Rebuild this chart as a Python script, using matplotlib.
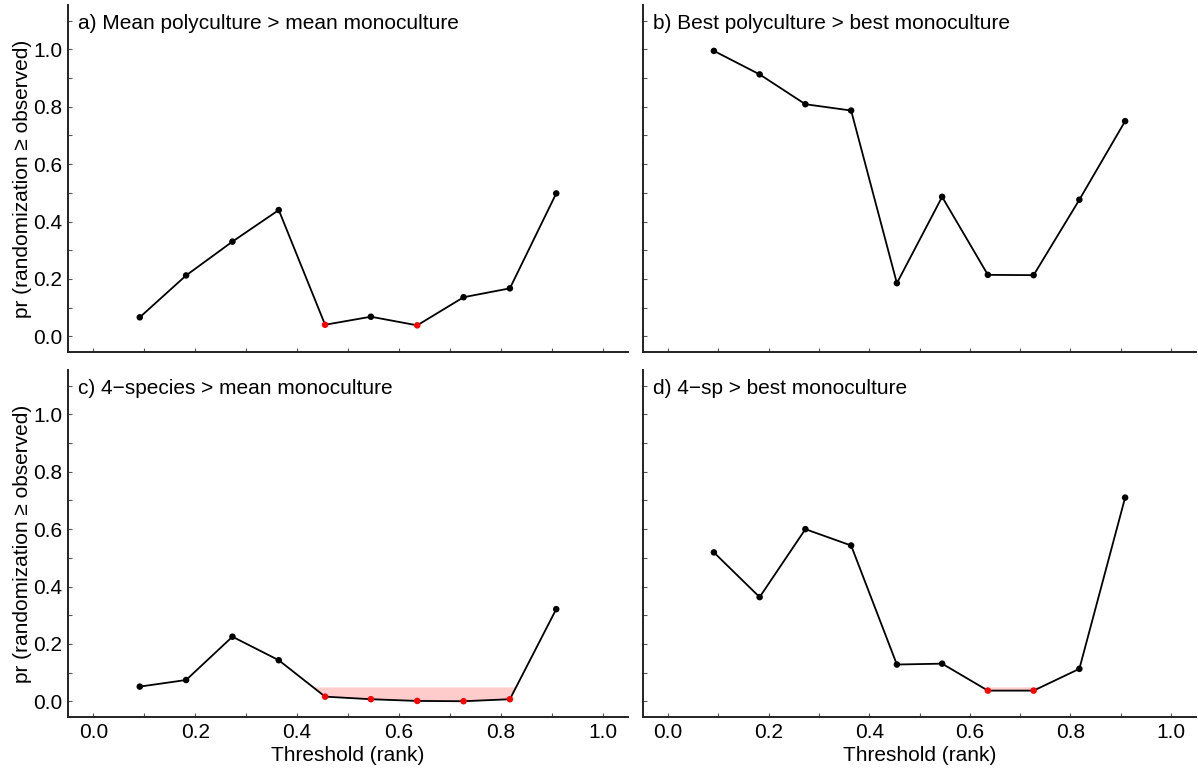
import numpy as np
import matplotlib
matplotlib.use("Agg")
import matplotlib.pyplot as plt
from matplotlib.ticker import MultipleLocator

plt.rcParams['font.family'] = ['Liberation Sans', 'DejaVu Sans']
plt.rcParams['font.size'] = 11

# Threshold ranks (x) and randomization p-values for each panel
threshold = [0.091, 0.182, 0.273, 0.364, 0.455, 0.545, 0.636, 0.727, 0.818, 0.909]
p_mean_poly = [0.066, 0.212, 0.330, 0.440, 0.040, 0.068, 0.038, 0.136, 0.167, 0.498]
p_best_poly = [0.995, 0.913, 0.809, 0.787, 0.185, 0.486, 0.214, 0.213, 0.476, 0.750]
p_4sp_mean = [0.051, 0.074, 0.225, 0.143, 0.016, 0.007, 0.001, 0.000, 0.007, 0.321]
p_4sp_best = [0.519, 0.363, 0.600, 0.543, 0.128, 0.131, 0.037, 0.037, 0.113, 0.710]

titles = ["a) Mean polyculture > mean monoculture",
          "b) Best polyculture > best monoculture",
          "c) 4\u2212species > mean monoculture",
          "d) 4\u2212sp > best monoculture"]
alpha_level = 0.05


def crossing(x0, y0, x1, y1, level):
    # x where the segment (x0,y0)-(x1,y1) hits the level
    return x0 + (level - y0) * (x1 - x0) / (y1 - y0)


def shade_runs(ax, x, y, level):
    sig = y < level
    n = len(y)
    i = 0
    while i < n:
        if not sig[i]:
            i += 1
            continue
        j = i
        while j + 1 < n and sig[j + 1]:
            j += 1
        if j > i:  # only runs of two or more significant thresholds
            xs = list(x[i:j + 1])
            ys = list(y[i:j + 1])
            if i > 0:
                xs.insert(0, crossing(x[i - 1], y[i - 1], x[i], y[i], level))
                ys.insert(0, level)
            if j < n - 1:
                xs.append(crossing(x[j], y[j], x[j + 1], y[j + 1], level))
                ys.append(level)
            ax.fill_between(xs, ys, level, color='#ff0000', alpha=0.2, lw=0)
        i = j + 1


fig = plt.figure(figsize=(11.98, 7.73), dpi=100)
W, H = 1198, 773
# axes boxes in pixels: left, right, top, bottom
boxes = [(68, 628, 5, 352), (643, 1196, 5, 352),
         (68, 628, 370, 717), (643, 1196, 370, 717)]
series = [p_mean_poly, p_best_poly, p_4sp_mean, p_4sp_best]

x = np.array(threshold)
for i, (box, p) in enumerate(zip(boxes, series)):
    l, r, t, b = box
    ax = fig.add_axes([l / W, 1 - b / H, (r - l) / W, (b - t) / H])
    y = np.array(p)
    sig = y < alpha_level
    shade_runs(ax, x, y, alpha_level)
    ax.plot(x, y, color='black', lw=1.3, zorder=2)
    cols = np.where(sig, '#ff0000', 'black')
    ax.scatter(x, y, c=cols, s=22, zorder=3, lw=0)

    ax.set_xlim(-0.05, 1.05)
    ax.set_ylim(-0.055, 1.155)
    ax.xaxis.set_minor_locator(MultipleLocator(0.1))
    ax.yaxis.set_minor_locator(MultipleLocator(0.1))
    ax.set_yticks([0, 0.2, 0.4, 0.6, 0.8, 1.0])
    ax.set_xticks([0, 0.2, 0.4, 0.6, 0.8, 1.0])
    ax.tick_params(which='both', direction='in', length=3, width=0.8,
                   color='#555555', labelsize=15, labelcolor='black', pad=4)
    for s in ['top', 'right']:
        ax.spines[s].set_visible(False)
    for s in ['left', 'bottom']:
        ax.spines[s].set_linewidth(1.4)
        ax.spines[s].set_color('#222222')

    if i % 2 == 1:
        ax.tick_params(labelleft=False)
    else:
        ax.set_ylabel("pr (randomization \u2265 observed)", fontsize=15, labelpad=1)
    if i < 2:
        ax.tick_params(labelbottom=False)
    else:
        ax.set_xlabel("Threshold (rank)", fontsize=15, labelpad=3)

    ax.text(0.018, 0.975, titles[i], transform=ax.transAxes, fontsize=15,
            ha='left', va='top')

fig.savefig("out.png", dpi=100)
